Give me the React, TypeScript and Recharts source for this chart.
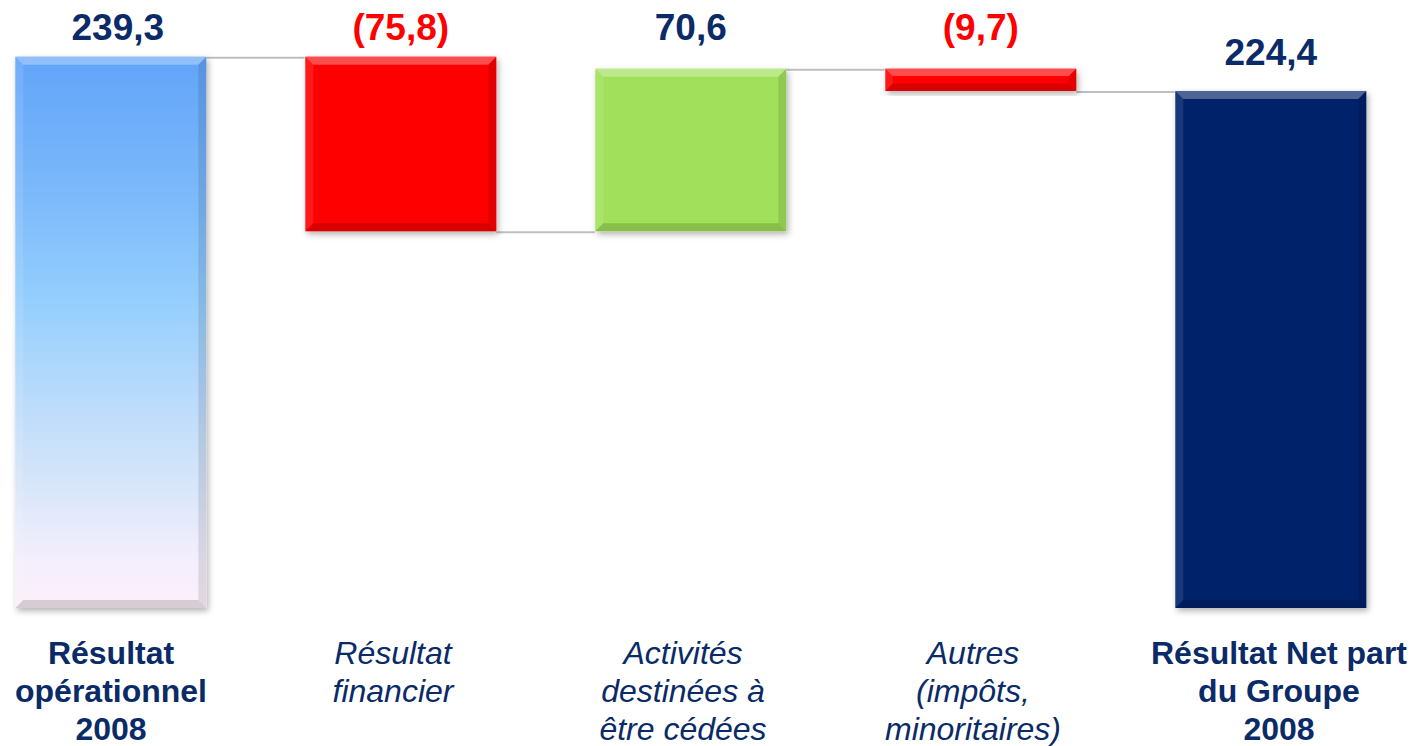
import { BarChart, Bar, XAxis, YAxis, LabelList } from 'recharts';

const categories = [
  'Résultat\nopérationnel\n2008',
  'Résultat\nfinancier',
  'Activités\ndestinées à\nêtre cédées',
  'Autres\n(impôts,\nminoritaires)',
  'Résultat Net part\ndu Groupe\n2008',
];
const steps = [239.3, -75.8, 70.6, -9.7, 224.4];
const isTotal = [true, false, false, false, true];
const valueLabels = ['239,3', '(75,8)', '70,6', '(9,7)', '224,4'];

const barColors = ['url(#blueGrad)', '#FF0404', '#A0E05A', '#FF0404', '#05246A'];
const NAVY = '#0A2A68';
const FONT = '"Liberation Sans", Arial, sans-serif';
const CAT_GAP = 0.17;
const PLOT_TOP = 32;

// waterfall rows: invisible base + visible delta
let running = 0;
const rows = categories.map((name, i) => {
  const v = steps[i];
  let base: number;
  let end: number;
  if (isTotal[i]) {
    base = 0;
    end = v;
  } else {
    end = running + v;
    base = Math.min(running, end);
  }
  running = end;
  return { name, base, delta: Math.abs(v), up: isTotal[i] || v >= 0, label: valueLabels[i] };
});

const BarShape = (props: any) => {
  const { x, y, width, height, index } = props;
  const b = Math.min(8, height / 3);
  const row = rows[index];
  const gap = (width * 2 * CAT_GAP) / (1 - 2 * CAT_GAP);
  const endY = row.up ? y : y + height;
  return (
    <g>
      {index < rows.length - 1 && (
        <line x1={x + width} x2={x + width + gap} y1={endY + 1} y2={endY + 1} stroke="#BFBFBF" strokeWidth={2} />
      )}
      <rect x={x} y={y} width={width} height={height} fill={barColors[index]} filter="url(#shadow)" />
      <polygon points={`${x},${y} ${x + width},${y} ${x + width - b},${y + b} ${x + b},${y + b}`} fill="#fff" fillOpacity={0.3} />
      <polygon points={`${x},${y} ${x + b},${y + b} ${x + b},${y + height - b} ${x},${y + height}`} fill="#fff" fillOpacity={0.1} />
      <polygon points={`${x + width},${y} ${x + width},${y + height} ${x + width - b},${y + height - b} ${x + width - b},${y + b}`} fill="#000" fillOpacity={0.1} />
      <polygon points={`${x},${y + height} ${x + b},${y + height - b} ${x + width - b},${y + height - b} ${x + width},${y + height}`} fill="#000" fillOpacity={0.15} />
    </g>
  );
};

const ValueLabel = (props: any) => {
  const { x, y, width, index } = props;
  const last = index === rows.length - 1;
  const baseline = last ? y - 26 : PLOT_TOP + 8;
  const neg = steps[index] < 0;
  return (
    <text x={x + width / 2 + (index === 0 ? 7 : 0)} y={baseline} textAnchor="middle" fill={neg ? '#FF0000' : NAVY}
      fontFamily={FONT} fontWeight="bold" fontSize={37}>
      {rows[index].label}
    </text>
  );
};

const CategoryTick = (props: any) => {
  const { x, y, payload, index } = props;
  const lines = String(payload.value).split('\n');
  const bold = isTotal[index];
  const cx = bold ? (index === 0 ? x : x + 8) : x - 8;
  return (
    <text x={cx} y={y + 56} textAnchor="middle" fill={NAVY} fontFamily={FONT} fontSize={32}
      fontWeight={bold ? 'bold' : 'normal'} fontStyle={bold ? 'normal' : 'italic'}>
      {lines.map((l, i) => (
        <tspan key={i} x={cx} dy={i === 0 ? 0 : 38}>{l}</tspan>
      ))}
    </text>
  );
};

export default function App() {
  return (
    <div style={{ position: 'absolute', left: 0, top: 0, width: 1425, height: 746, background: '#fff' }}>
      <BarChart width={1425} height={746} data={rows}
        margin={{ top: PLOT_TOP, right: 9, left: -34, bottom: 0 }}
        barCategoryGap={`${CAT_GAP * 100}%`}>
        <defs>
          <linearGradient id="blueGrad" x1="0" y1="0" x2="0" y2="1">
            <stop offset="0%" stopColor="#62A4F8" />
            <stop offset="25%" stopColor="#7CB9FA" />
            <stop offset="45%" stopColor="#96CFFD" />
            <stop offset="62%" stopColor="#BADBFB" />
            <stop offset="78%" stopColor="#D8E6F9" />
            <stop offset="90%" stopColor="#F1EEFC" />
            <stop offset="100%" stopColor="#FDF0FA" />
          </linearGradient>
          <filter id="shadow" x="-10%" y="-10%" width="130%" height="130%">
            <feDropShadow dx={2} dy={3} stdDeviation={3} floodColor="#000" floodOpacity={0.3} />
          </filter>
        </defs>
        <XAxis dataKey="name" tickLine={false} axisLine={false} tickSize={0} tickMargin={0}
          height={138} interval={0} tick={<CategoryTick />} />
        <YAxis hide domain={[0, 250]} />
        <Bar dataKey="base" stackId="w" fill="transparent" isAnimationActive={false} />
        <Bar dataKey="delta" stackId="w" shape={<BarShape />} isAnimationActive={false}>
          <LabelList dataKey="label" content={<ValueLabel />} />
        </Bar>
      </BarChart>
    </div>
  );
}
